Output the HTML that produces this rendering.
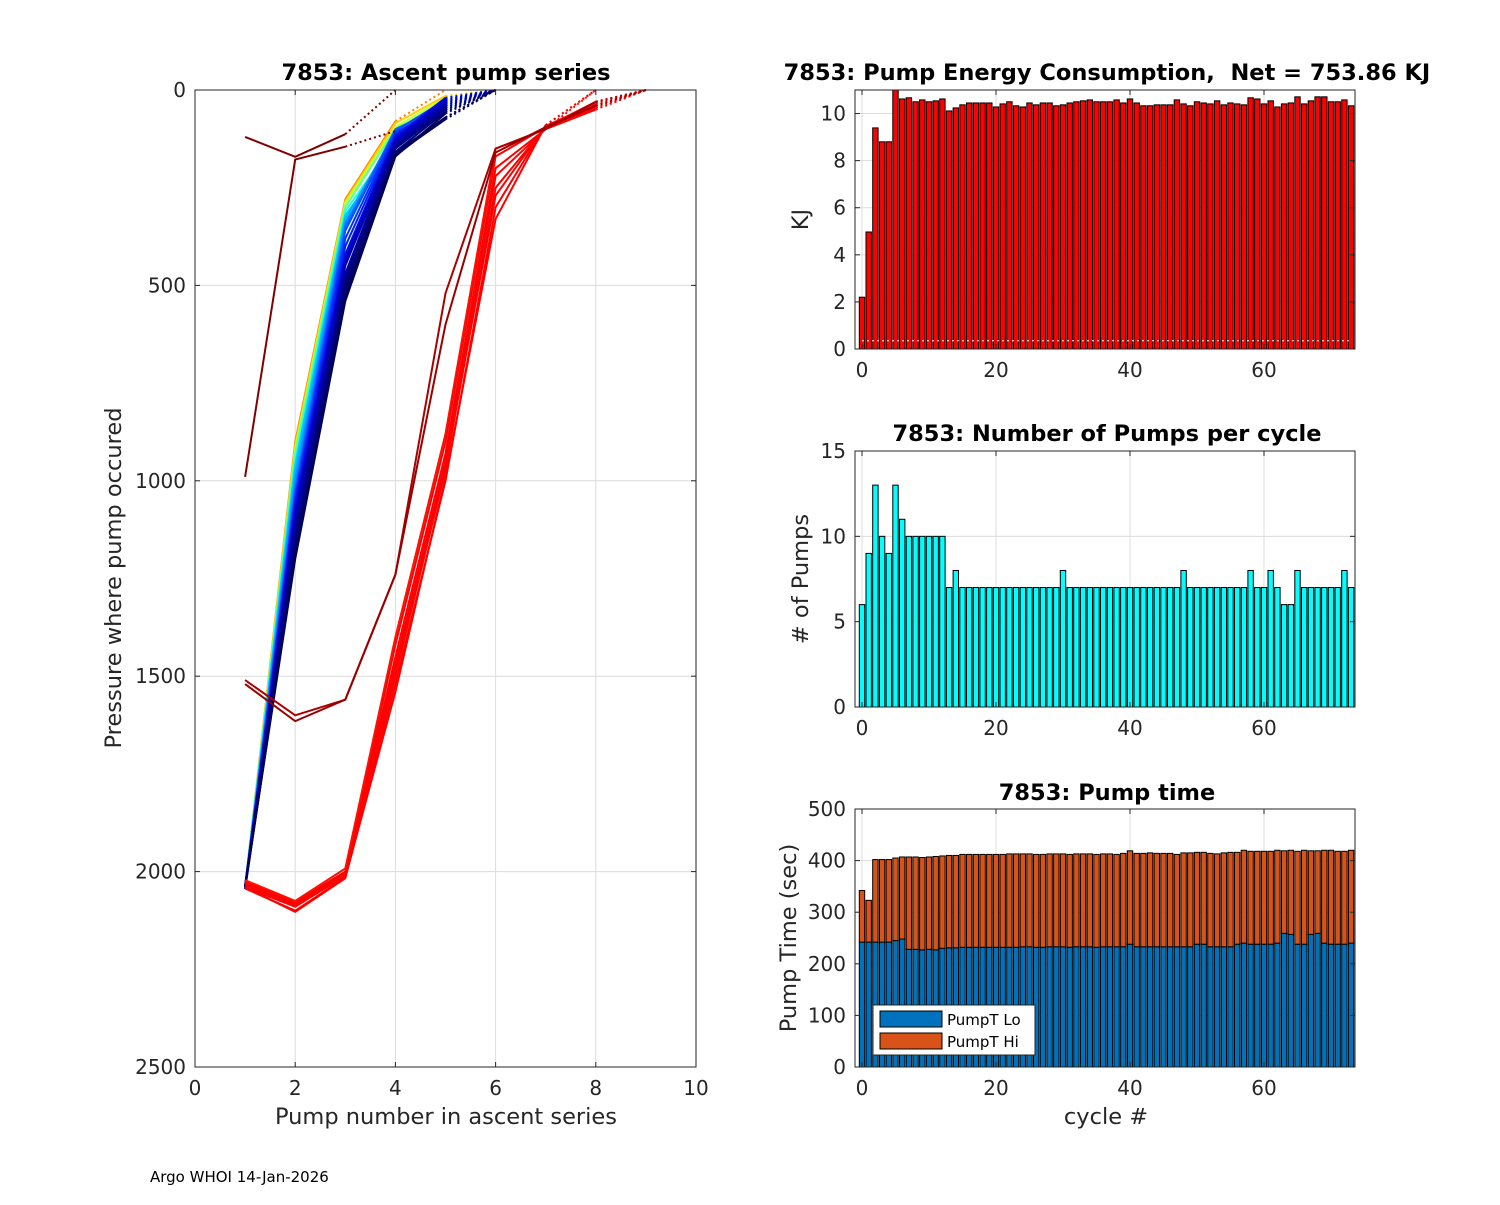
<!DOCTYPE html>
<html><head><meta charset="utf-8"><style>
body{margin:0;background:#fff}
svg text{font-family:"DejaVu Sans","Liberation Sans",sans-serif;fill:#262626;white-space:pre}
</style></head><body>
<svg id="fig" width="1500" height="1200" xmlns="http://www.w3.org/2000/svg"></svg>
<script>
// ===== Data =====
const cycles = Array.from({length:74},(_,i)=>i);
const energyKJ = [2.2,4.97,9.39,8.8,8.8,11.2,10.62,10.67,10.5,10.58,10.5,10.54,10.62,10.11,10.24,10.37,10.45,10.45,10.45,10.45,10.28,10.41,10.5,10.33,10.28,10.45,10.37,10.45,10.45,10.33,10.37,10.45,10.5,10.54,10.58,10.5,10.5,10.5,10.58,10.45,10.62,10.45,10.33,10.33,10.37,10.37,10.37,10.58,10.41,10.33,10.5,10.45,10.41,10.54,10.37,10.45,10.41,10.37,10.67,10.62,10.41,10.54,10.28,10.41,10.45,10.71,10.41,10.54,10.71,10.71,10.5,10.5,10.58,10.33];
const numPumps = [6,9,13,10,9,13,11,10,10,10,10,10,10,7,8,7,7,7,7,7,7,7,7,7,7,7,7,7,7,7,8,7,7,7,7,7,7,7,7,7,7,7,7,7,7,7,7,7,8,7,7,7,7,7,7,7,7,7,8,7,7,8,7,6,6,8,7,7,7,7,7,7,8,7];
const pumpLo = [242,242,242,242,242,245,248,228,228,227,228,227,230,231,231,232,232,232,232,232,232,232,232,232,233,233,232,232,233,233,233,232,233,233,233,232,233,233,233,233,238,233,233,233,233,233,233,233,233,233,238,238,233,233,233,233,238,240,238,238,238,238,240,259,257,238,238,257,259,240,238,238,238,240];
const pumpTotal = [342,323,402,402,402,405,407,407,407,406,407,408,409,410,410,412,412,412,412,412,412,412,413,413,413,413,412,412,413,413,413,412,413,413,413,412,413,413,412,414,419,414,414,415,414,414,414,412,415,415,416,416,414,413,415,416,416,420,418,418,418,418,420,419,420,418,420,419,419,420,420,418,418,420];
const energyTicks=[0,2,4,6,8,10];
const pumpTicks=[0,5,10,15];
const timeTicks=[0,100,200,300,400,500];
const cycleTicks=[0,20,40,60];
const pressTicks=[0,500,1000,1500,2000,2500];
const pumpNumTicks=[0,2,4,6,8,10];
// Ascent profiles: pressure at pump 1..n (last segment dotted)
const profiles = [
 [2040,900,280,80,0],[2040,910,285,85,15,0],[2040,920,290,95,20,0],[2040,930,300,100,30,0],
 [2040,950,310,130,40,0],[2040,960,320,150,50,0],[2040,980,330,110,40,0],[2040,1000,340,120,45,0],
 [2040,1020,350,100,40,0],[2040,1030,360,105,25,0],[2040,1040,380,110,35,0],[2040,1050,400,115,30,0],
 [2040,1060,420,120,20,0],[2040,1080,430,125,25,0],[2040,1090,440,130,30,0],[2035,1100,450,135,35,0],
 [2040,1120,470,140,40,0],[2040,1140,480,145,45,0],[2040,1150,490,150,50,0],[2040,1160,500,158,55,0],
 [2035,1170,510,160,70,0],[2045,1180,520,165,75,0],[2040,1190,530,168,70,0],[2040,1200,540,170,60,0],
 [2025,2078,2000,1420,900,170,95,40,0],[2030,2082,2005,1450,930,200,100,45,0],[2035,2085,2008,1470,950,220,100,50,0],
 [2040,2090,2010,1500,970,250,95,30,0],[2043,2100,2015,1540,990,330,90,0],[2022,2075,1992,1400,880,150,100,0],
 [2030,2088,2012,1480,960,270,92,35,0],[2040,2103,2017,1520,1000,300,90,0],
 [1510,1600,1560,1240,520,150,100,30,0],[1520,1615,1560,1240,600,160,95,40,0],
 [990,178,145,105],[120,171,113,0]
];
const profileColors = [
 '#ff8000','#ffd000','#c0ff30','#60ff90','#20ffe0','#00d0ff','#00b0ff','#0090ff','#0070ff','#0050ff','#0030ff','#0020f0',
 '#0010e0','#0000d0','#0000c0','#0000b0','#0000a0','#00008f','#000080','#000078','#000070','#000068','#00005f','#000055',
 '#ff0000','#ff0000','#ff0000','#ff0000','#ff0000','#ff1000','#ff0000','#ff0000',
 '#aa0000','#990000','#800000','#800000'
];
// ===== helpers =====
const NS='http://www.w3.org/2000/svg';
const svg=document.getElementById('fig');
function mk(tag,attrs,parent){const e=document.createElementNS(NS,tag);for(const k in attrs)e.setAttribute(k,attrs[k]);(parent||svg).appendChild(e);return e;}
function txt(s,x,y,size,anchor,weight,parent,rot){const t=mk('text',{x:x,y:y,'font-size':size,'text-anchor':anchor||'middle','font-weight':weight||'normal'},parent);if(rot)t.setAttribute('transform','rotate(-90 '+x+' '+y+')');t.textContent=s;return t;}
function axesFrame(g,L,T,R,B){mk('rect',{x:L,y:T,width:R-L,height:B-T,fill:'none',stroke:'#262626','stroke-width':1},g);}
const TICK=20, LAB=22.5, TIT=22.5;

// ===== Left chart =====
const LL=195,LR=696,LT=90,LB=1067;
const px=v=>LL+(v-0)/10*(LR-LL);
const py=p=>LT+p/2500*(LB-LT);
const gL=mk('g',{});


pumpNumTicks.forEach(v=>{mk('line',{x1:px(v),x2:px(v),y1:LT,y2:LB,stroke:'#dcdcdc'},gL);});
pressTicks.forEach(v=>{mk('line',{x1:LL,x2:LR,y1:py(v),y2:py(v),stroke:'#dcdcdc'},gL);});
profiles.forEach((pr,k)=>{
  const c=profileColors[k];
  const pts=pr.map((p,i)=>px(i+1)+','+py(p));
  const solid=pts.slice(0,pts.length-1).join(' ');
  const l=mk('polyline',{points:solid,fill:'none',stroke:c,'stroke-width':2},gL);
  
  
  const d=mk('line',{x1:px(pr.length-1),y1:py(pr[pr.length-2]),x2:px(pr.length),y2:py(pr[pr.length-1]),stroke:c,'stroke-width':2,'stroke-dasharray':'2,3'},gL);
  
  
});
axesFrame(gL,LL,LT,LR,LB);
pumpNumTicks.forEach(v=>{mk('line',{x1:px(v),x2:px(v),y1:LB,y2:LB-5,stroke:'#262626'},gL);mk('line',{x1:px(v),x2:px(v),y1:LT,y2:LT+5,stroke:'#262626'},gL);
  const t=txt(String(v),px(v),1095,TICK,'middle','normal',gL);});
pressTicks.forEach(v=>{mk('line',{x1:LL,x2:LL+5,y1:py(v),y2:py(v),stroke:'#262626'},gL);mk('line',{x1:LR,x2:LR-5,y1:py(v),y2:py(v),stroke:'#262626'},gL);
  const t=txt(String(v),LL-9,py(v)+7,TICK,'end','normal',gL);});
let t;
t=txt('7853: Ascent pump series',446,80,TIT,'middle','bold',gL);t.style.fill='#000';
t=txt('Pump number in ascent series',446,1124,LAB,'middle','normal',gL);
t=txt('Pressure where pump occured',121,578,LAB,'middle','normal',gL,true);
t=txt('Argo WHOI 14-Jan-2026',150,1182,15,'start','normal');t.style.fill='#000';

// ===== Right charts =====
const RL=855,RR=1355;
const cx=c=>862+c*6.7;
const BW=5.4;
function panel(name,T,B,ymax,ticks,title,ylabel,titleY){
  const g=mk('g',{});
  
  
  const sy=v=>B-v/ymax*(B-T);
  cycleTicks.forEach(v=>mk('line',{x1:cx(v),x2:cx(v),y1:T,y2:B,stroke:'#dcdcdc'},g));
  ticks.forEach(v=>mk('line',{x1:RL,x2:RR,y1:sy(v),y2:sy(v),stroke:'#dcdcdc'},g));
  return {g,sy,T,B,title,ylabel,titleY};
}
function finish(p,ticks,showXlabel){
  const g=p.g;
  axesFrame(g,RL,p.T,RR,p.B);
  ticks.forEach(v=>{mk('line',{x1:RL,x2:RL+5,y1:p.sy(v),y2:p.sy(v),stroke:'#262626'},g);mk('line',{x1:RR,x2:RR-5,y1:p.sy(v),y2:p.sy(v),stroke:'#262626'},g);
    const tt=txt(String(v),RL-9,p.sy(v)+7,TICK,'end','normal',g);});
  cycleTicks.forEach(v=>{mk('line',{x1:cx(v),x2:cx(v),y1:p.B,y2:p.B-5,stroke:'#262626'},g);mk('line',{x1:cx(v),x2:cx(v),y1:p.T,y2:p.T+5,stroke:'#262626'},g);
    const tt=txt(String(v),cx(v),p.B+28,TICK,'middle','normal',g);});
  let a=txt(p.title,1107,p.titleY,TIT,'middle','bold',g);a.style.fill='#000';
  a=txt(p.ylabel,p.ylx,(p.T+p.B)/2,LAB,'middle','normal',g,true);
  if(showXlabel){a=txt('cycle #',1106,1124,LAB,'middle','normal',g);}
}
// Energy
const p1=panel('energy-chart',90,349,11,energyTicks,'7853: Pump Energy Consumption,  Net = 753.86 KJ','KJ',80);
p1.ylx=808;
cycles.forEach((c,i)=>{const v=Math.min(energyKJ[i],11);const b=mk('rect',{x:cx(c)-BW/2,y:p1.sy(v),width:BW,height:349-p1.sy(v),fill:'#ff0000',stroke:'#000','stroke-width':1},p1.g);
  });
mk('line',{x1:cx(0),x2:cx(73),y1:p1.sy(0.35),y2:p1.sy(0.35),stroke:'#fff','stroke-dasharray':'2,3'},p1.g);
finish(p1,energyTicks,false);
// Pumps
const p2=panel('pumps-chart',451,707,15,pumpTicks,'7853: Number of Pumps per cycle','# of Pumps',441);
p2.ylx=808;
cycles.forEach((c,i)=>{const b=mk('rect',{x:cx(c)-BW/2,y:p2.sy(numPumps[i]),width:BW,height:707-p2.sy(numPumps[i]),fill:'#00ffff',stroke:'#000','stroke-width':1},p2.g);
  });
finish(p2,pumpTicks,false);
// Pump time
const p3=panel('pump-time-chart',809,1067,500,timeTicks,'7853: Pump time','Pump Time (sec)',800);
p3.ylx=796;
cycles.forEach((c,i)=>{
  const lo=mk('rect',{x:cx(c)-BW/2,y:p3.sy(pumpLo[i]),width:BW,height:1067-p3.sy(pumpLo[i]),fill:'#0072bd',stroke:'#000','stroke-width':1},p3.g);
  
  const hi=mk('rect',{x:cx(c)-BW/2,y:p3.sy(pumpTotal[i]),width:BW,height:p3.sy(pumpLo[i])-p3.sy(pumpTotal[i]),fill:'#d95319',stroke:'#000','stroke-width':1},p3.g);
  
});
finish(p3,timeTicks,true);
const lg=mk('g',{});


mk('rect',{x:873,y:1005,width:162,height:50,fill:'#fff',stroke:'#262626'},lg);
mk('rect',{x:880,y:1011,width:62,height:16,fill:'#0072bd',stroke:'#000'},lg);
mk('rect',{x:880,y:1033,width:62,height:16,fill:'#d95319',stroke:'#000'},lg);
t=txt('PumpT Lo',947,1025,15,'start','normal',lg);t.style.fill='#000';
t=txt('PumpT Hi',947,1047,15,'start','normal',lg);t.style.fill='#000';
</script>
</body></html>
